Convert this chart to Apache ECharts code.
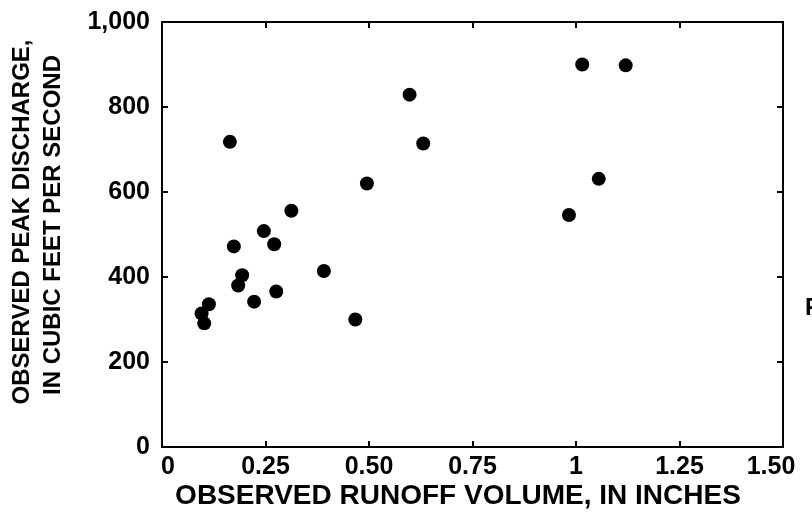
<!DOCTYPE html>
<html>
<head>
<meta charset="utf-8">
<script src="https://cdn.jsdelivr.net/npm/echarts@6/dist/echarts.min.js"></script>
<style>
html,body{margin:0;padding:0;background:#fff;}
#chart{width:812px;height:515px;}
</style>
</head>
<body>
<div id="chart"></div>
<script>
var runoffInches = [0.164, 0.598, 0.631, 1.015, 1.120, 0.495, 1.055, 0.983, 0.3125, 0.246, 0.271, 0.1735, 0.391, 0.1936, 0.184, 0.276, 0.2225, 0.1133, 0.0956, 0.102, 0.467];
var peakDischarge = [718, 829, 714, 900, 898, 620, 631, 546, 556, 508, 477, 472, 414, 404, 380, 366, 342, 336, 314, 291, 300];
var xTickLabels = ['0', '0.25', '0.50', '0.75', '1', '1.25', '1.50'];
var yTickLabels = ['0', '200', '400', '600', '800', '1,000'];
var xTitle = 'OBSERVED RUNOFF VOLUME, IN INCHES';
var yTitle1 = 'OBSERVED PEAK DISCHARGE,';
var yTitle2 = 'IN CUBIC FEET PER SECOND';

var points = runoffInches.map(function (x, i) { return [x, peakDischarge[i]]; });
var FONT = '"Liberation Sans", Arial, sans-serif';
var lineStyle = { color: '#000', width: 2 };
var tick = { show: true, inside: true, length: 6, lineStyle: { color: '#000', width: 2 } };
var labelFont = { color: '#000', fontSize: 25, fontWeight: 'bold', fontFamily: FONT };

var chart = echarts.init(document.getElementById('chart'), null, { renderer: 'canvas' });
chart.setOption({
  backgroundColor: '#fff',
  animation: false,
  grid: { left: 162, right: 29, top: 22, bottom: 68 },
  xAxis: [{
    type: 'value', min: 0, max: 1.5, interval: 0.25, position: 'bottom',
    axisLine: { show: true, lineStyle: lineStyle, onZero: false },
    axisTick: tick, splitLine: { show: false },
    axisLabel: Object.assign({
      margin: 8,
      formatter: function (v) {
        var i = Math.round(v / 0.25);
        if (i === 0) return '{first|' + xTickLabels[i] + '}';
        if (i === xTickLabels.length - 1) return '{last|' + xTickLabels[i] + '}';
        return xTickLabels[i];
      },
      rich: {
        first: Object.assign({ padding: [0, 0, 0, 12] }, labelFont),
        last: Object.assign({ padding: [0, 24, 0, 0] }, labelFont)
      }
    }, labelFont)
  }, {
    type: 'value', min: 0, max: 1.5, interval: 0.25, position: 'top',
    axisLine: { show: true, lineStyle: lineStyle, onZero: false },
    axisTick: tick, splitLine: { show: false }, axisLabel: { show: false }
  }],
  yAxis: [{
    type: 'value', min: 0, max: 1000, interval: 200, position: 'left',
    axisLine: { show: true, lineStyle: lineStyle, onZero: false },
    axisTick: tick, splitLine: { show: false },
    axisLabel: Object.assign({
      margin: 12,
      formatter: function (v) { return yTickLabels[Math.round(v / 200)]; }
    }, labelFont)
  }, {
    type: 'value', min: 0, max: 1000, interval: 200, position: 'right',
    axisLine: { show: true, lineStyle: lineStyle, onZero: false },
    axisTick: tick, splitLine: { show: false }, axisLabel: { show: false }
  }],
  graphic: [
    { type: 'text', x: 458, y: 496, style: { text: xTitle, fill: '#000', font: 'bold 28px ' + FONT, textAlign: 'center', textVerticalAlign: 'middle' } },
    { type: 'text', x: 22, y: 222, rotation: Math.PI / 2, style: { text: yTitle1, fill: '#000', font: 'bold 24px ' + FONT, textAlign: 'center', textVerticalAlign: 'middle' } },
    { type: 'text', x: 53, y: 225, rotation: Math.PI / 2, style: { text: yTitle2, fill: '#000', font: 'bold 24px ' + FONT, textAlign: 'center', textVerticalAlign: 'middle' } },
    { type: 'text', x: 805, y: 308, style: { text: 'F', fill: '#000', font: 'bold 24px ' + FONT, textAlign: 'left', textVerticalAlign: 'middle' } }
  ],
  series: [{
    type: 'scatter', xAxisIndex: 0, yAxisIndex: 0,
    symbol: 'circle', symbolSize: 14,
    itemStyle: { color: '#000', opacity: 1 },
    data: points
  }]
});
</script>
</body>
</html>
